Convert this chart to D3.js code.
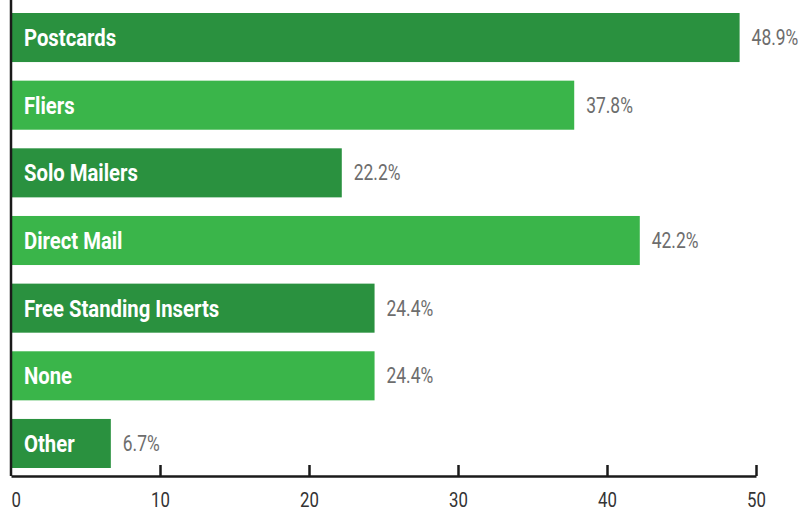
<!DOCTYPE html>
<html>
<head>
<meta charset="utf-8">
<script src="https://cdn.jsdelivr.net/npm/d3@7"></script>
<style>
  html, body { margin: 0; padding: 0; background: #fff; }
  svg { display: block; }
  text { font-family: Roboto, "Liberation Sans", sans-serif; }
</style>
</head>
<body>
<svg id="chart" width="804" height="510"></svg>
<script>
const categories = ["Postcards", "Fliers", "Solo Mailers", "Direct Mail", "Free Standing Inserts", "None", "Other"];
const values = [48.9, 37.8, 22.2, 42.2, 24.4, 24.4, 6.7];
const tickValues = [0, 10, 20, 30, 40, 50];
const barColors = ["#2a913f", "#3ab54a"];

const svg = d3.select("#chart");
const x = d3.scaleLinear().domain([0, 50]).range([11, 756]);
const y = d3.scaleBand().domain(categories).range([13, 468]).paddingInner(0.275).paddingOuter(0);
const axisY = 476;

const data = categories.map((c, i) => ({ c, v: values[i], i }));

svg.selectAll("rect.bar").data(data).join("rect")
  .attr("class", "bar")
  .attr("x", x(0))
  .attr("y", d => y(d.c))
  .attr("width", d => x(d.v) - x(0))
  .attr("height", y.bandwidth())
  .attr("fill", d => barColors[d.i % 2]);

svg.selectAll("text.cat").data(data).join("text")
  .attr("class", "cat")
  .attr("transform", d => `translate(${x(0) + 13},${y(d.c) + y.bandwidth() / 2}) scale(0.845,1)`)
  .attr("dy", "0.355em")
  .attr("fill", "#fff")
  .attr("font-weight", "bold")
  .attr("font-size", 24)
  .text(d => d.c);

svg.selectAll("text.val").data(data).join("text")
  .attr("class", "val")
  .attr("transform", d => `translate(${x(d.v) + 12},${y(d.c) + y.bandwidth() / 2}) scale(0.81,1)`)
  .attr("dy", "0.355em")
  .attr("fill", "#6d6d6d")
  .attr("font-size", 21.5)
  .text(d => d3.format(".1f")(d.v) + "%");

// axis
const axis = d3.axisBottom(x).tickValues(tickValues).tickSizeInner(-11).tickSizeOuter(0).tickFormat(d3.format("d"));
const g = svg.append("g").attr("transform", `translate(0,${axisY})`).call(axis);
g.select(".domain").attr("stroke", "#1a1a1a").attr("stroke-width", 2.5);
g.selectAll(".tick line").attr("stroke", "#1a1a1a").attr("stroke-width", 2.5);
g.selectAll(".tick text")
  .attr("x", null).attr("y", null).attr("dy", null)
  .attr("transform", `translate(0,31) scale(0.8,1)`)
  .attr("font-size", 21)
  .attr("fill", "#333")
  .attr("text-anchor", d => d === 0 ? "start" : "middle");
g.selectAll(".tick").filter(d => d === 0).select("line").remove();

// vertical axis line
svg.append("line")
  .attr("x1", x(0)).attr("x2", x(0))
  .attr("y1", 0).attr("y2", axisY)
  .attr("stroke", "#1a1a1a").attr("stroke-width", 2.5);
</script>
</body>
</html>
